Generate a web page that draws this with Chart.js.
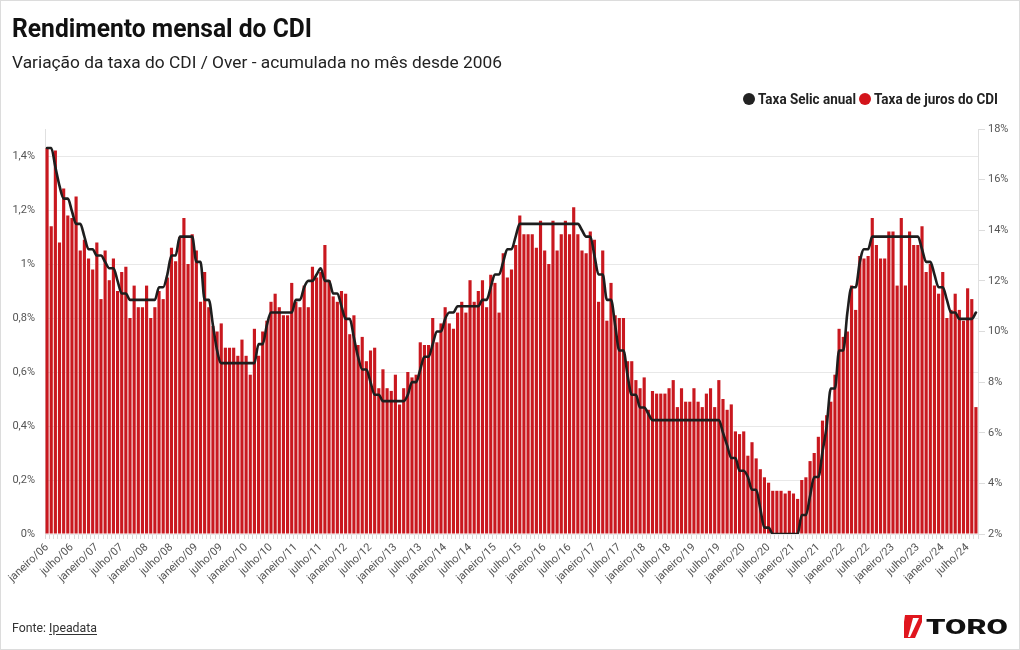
<!DOCTYPE html>
<html lang="pt-BR">
<head>
<meta charset="utf-8">
<script src="https://cdn.jsdelivr.net/npm/chart.js@4.4.1/dist/chart.umd.min.js"></script>
<style>
  html, body { margin:0; padding:0; background:#fff; }
  #wrap { position:relative; width:1020px; height:650px; overflow:hidden; font-family:Roboto, "Noto Sans", sans-serif; }
  #frame { position:absolute; left:0; top:0; width:1018px; height:648px; border:1px solid #dcdcdc; pointer-events:none; }
  canvas { position:absolute; left:0; top:0; }
  .txt { position:absolute; white-space:nowrap; transform-origin:0 0; line-height:1; }
  #title { left:12px; top:15px; font-size:26.7px; font-weight:700; color:#111; }
  #subtitle { left:12px; top:54px; font-size:17.3px; font-weight:400; color:#222; }
  .lg { font-size:15px; font-weight:700; color:#222; top:92px; }
  .dot { position:absolute; width:12px; height:12px; border-radius:50%; top:93px; }
  #fonte { left:12px; top:621px; font-size:13px; color:#333; }
  #fonte u { text-underline-offset:2px; }
  #logo { position:absolute; left:901px; top:614px; }
</style>
</head>
<body>
<div id="wrap">
  <canvas id="c" width="1020" height="650"></canvas>
  <div id="title" class="txt" data-w="300">Rendimento mensal do CDI</div>
  <div id="subtitle" class="txt" data-w="490">Variação da taxa do CDI / Over - acumulada no mês desde 2006</div>
  <div class="dot" style="left:743px;background:#222;"></div>
  <div id="lg1" class="txt lg" style="left:758px;" data-w="98">Taxa Selic anual</div>
  <div class="dot" style="left:859px;background:#d3141b;"></div>
  <div id="lg2" class="txt lg" style="left:874px;" data-w="124">Taxa de juros do CDI</div>
  <div id="fonte" class="txt" data-w="85">Fonte: <u>Ipeadata</u></div>
  <svg id="logo" width="110" height="26" viewBox="0 0 110 26">
    <polygon points="4,1 21,1 21,8 14,24 3,24 3,8" fill="#e0161e"/>
    <polygon points="12,4 18,4 9,23 7,23" fill="#ffffff"/>
    <text x="25" y="20" font-family="Roboto, sans-serif" font-weight="900" font-size="21" fill="#111" textLength="82" lengthAdjust="spacingAndGlyphs">TORO</text>
  </svg>
  <div id="frame"></div>
</div>
<script>
// ---- Data ----
const startYear = 2006;
const monthNames = ['janeiro','fevereiro','março','abril','maio','junho','julho','agosto','setembro','outubro','novembro','dezembro'];

// Taxa de juros do CDI (% ao mês), jan/2006 .. set/2024
const cdi = [
  1.43,1.14,1.42,1.08,1.28,1.18,1.17,1.25,1.05,1.09,1.02,0.98,
  1.08,0.87,1.05,0.94,1.02,0.90,0.97,0.99,0.80,0.92,0.84,0.84,
  0.92,0.80,0.84,0.90,0.87,0.95,1.06,1.01,1.10,1.17,1.00,1.11,
  1.05,0.86,0.97,0.84,0.77,0.75,0.78,0.69,0.69,0.69,0.66,0.72,
  0.66,0.59,0.76,0.66,0.75,0.79,0.86,0.89,0.84,0.81,0.81,0.93,
  0.86,0.84,0.92,0.84,0.99,0.95,0.97,1.07,0.94,0.88,0.86,0.90,
  0.89,0.74,0.81,0.70,0.73,0.64,0.68,0.69,0.54,0.61,0.54,0.53,
  0.59,0.48,0.54,0.60,0.58,0.59,0.71,0.70,0.70,0.80,0.71,0.78,
  0.84,0.78,0.76,0.82,0.86,0.82,0.94,0.86,0.90,0.94,0.84,0.96,
  0.93,0.82,1.04,0.95,0.98,1.07,1.18,1.11,1.11,1.11,1.06,1.16,
  1.05,1.00,1.16,1.05,1.11,1.16,1.11,1.21,1.11,1.05,1.04,1.12,
  1.09,0.86,1.05,0.79,0.93,0.81,0.80,0.80,0.64,0.64,0.57,0.54,
  0.58,0.46,0.53,0.52,0.52,0.52,0.54,0.57,0.47,0.54,0.49,0.49,
  0.54,0.49,0.47,0.52,0.54,0.47,0.57,0.50,0.46,0.48,0.38,0.37,
  0.38,0.29,0.34,0.28,0.24,0.21,0.19,0.16,0.16,0.16,0.15,0.16,
  0.15,0.13,0.20,0.21,0.27,0.30,0.36,0.42,0.44,0.49,0.59,0.76,
  0.73,0.75,0.92,0.83,1.03,1.02,1.03,1.17,1.07,1.02,1.02,1.12,
  1.12,0.92,1.17,0.92,1.12,1.07,1.07,1.14,0.97,1.00,0.92,0.89,
  0.97,0.80,0.83,0.89,0.83,0.79,0.91,0.87,0.47
];

// Taxa Selic anual (% a.a.), jan/2006 .. set/2024
const selic = [
  17.25,17.25,16.50,15.75,15.25,15.25,14.75,14.25,14.25,13.75,13.25,13.25,
  13.00,13.00,12.75,12.50,12.50,12.00,11.50,11.50,11.25,11.25,11.25,11.25,
  11.25,11.25,11.25,11.75,11.75,12.25,13.00,13.00,13.75,13.75,13.75,13.75,
  12.75,12.75,11.25,11.25,10.25,9.25,8.75,8.75,8.75,8.75,8.75,8.75,
  8.75,8.75,8.75,9.50,9.50,10.25,10.75,10.75,10.75,10.75,10.75,10.75,
  11.25,11.25,11.75,12.00,12.00,12.25,12.50,12.00,12.00,11.50,11.50,11.00,
  10.50,10.50,9.75,9.00,8.50,8.50,8.00,7.50,7.50,7.25,7.25,7.25,
  7.25,7.25,7.25,7.50,8.00,8.00,8.50,9.00,9.00,9.50,10.00,10.00,
  10.50,10.75,10.75,11.00,11.00,11.00,11.00,11.00,11.00,11.25,11.25,11.75,
  12.25,12.25,12.75,13.25,13.25,13.75,14.25,14.25,14.25,14.25,14.25,14.25,
  14.25,14.25,14.25,14.25,14.25,14.25,14.25,14.25,14.25,14.00,13.75,13.75,
  13.00,12.25,12.25,11.25,11.25,10.25,9.25,9.25,8.25,7.50,7.50,7.00,
  7.00,6.75,6.50,6.50,6.50,6.50,6.50,6.50,6.50,6.50,6.50,6.50,
  6.50,6.50,6.50,6.50,6.50,6.50,6.50,6.00,5.50,5.00,5.00,4.50,
  4.50,4.25,3.75,3.75,3.00,2.25,2.25,2.00,2.00,2.00,2.00,2.00,
  2.00,2.00,2.75,2.75,3.50,4.25,4.25,5.25,6.25,7.75,7.75,9.25,
  9.25,10.75,11.75,11.75,12.75,13.25,13.25,13.75,13.75,13.75,13.75,13.75,
  13.75,13.75,13.75,13.75,13.75,13.75,13.75,13.25,12.75,12.75,12.25,11.75,
  11.75,11.25,10.75,10.75,10.50,10.50,10.50,10.50,10.75
];

const leftTicks = [0, 0.2, 0.4, 0.6, 0.8, 1.0, 1.2, 1.4];
const rightTicks = [2, 4, 6, 8, 10, 12, 14, 16, 18];

const labels = cdi.map((_, i) => monthNames[i % 12] + '/' + String((startYear + Math.floor(i / 12)) % 100).padStart(2, '0'));

const fmt = v => String(Math.round(v * 10) / 10).replace('.', ',') + '%';

Chart.defaults.font.family = 'Roboto, "Noto Sans", sans-serif';

new Chart(document.getElementById('c'), {
  data: {
    labels,
    datasets: [
      {
        type: 'line', label: 'Taxa Selic anual', data: selic, yAxisID: 'y2',
        borderColor: '#1e1e1e', borderWidth: 2.6, pointRadius: 0,
        cubicInterpolationMode: 'monotone', borderJoinStyle: 'round', borderCapStyle: 'round', order: 0
      },
      {
        type: 'bar', label: 'Taxa de juros do CDI', data: cdi, yAxisID: 'y',
        backgroundColor: '#c9181f', barPercentage: 0.76, categoryPercentage: 1.0, order: 1
      }
    ]
  },
  options: {
    responsive: false, animation: false,
    layout: { padding: { top: 129, left: 0, right: 0, bottom: 0 } },
    plugins: { legend: { display: false }, tooltip: { enabled: false } },
    scales: {
      x: {
        type: 'category', offset: true,
        grid: { drawOnChartArea: false, drawTicks: true, tickLength: 5, color: '#dadada' },
        border: { display: false },
        ticks: {
          autoSkip: false, maxRotation: 43, minRotation: 43, padding: 2,
          color: '#555', font: { size: 11 },
          callback: (v, i) => (i % 6 === 0 ? labels[i] : '')
        },
        afterFit: s => { s.height = 116; }
      },
      y: {
        position: 'left', min: 0, max: 1.5,
        afterBuildTicks: s => { s.ticks = leftTicks.map(v => ({ value: v })); },
        grid: { color: '#e8e8e8', drawTicks: false },
        border: { display: true, color: '#e0e0e0' },
        ticks: { padding: 10, color: '#555', font: { size: 11 }, callback: v => fmt(v) },
        afterFit: s => { s.width = 45; }
      },
      y2: {
        position: 'right', min: 2, max: 18,
        afterBuildTicks: s => { s.ticks = rightTicks.map(v => ({ value: v })); },
        grid: { drawOnChartArea: false, drawTicks: true, tickLength: 7, color: '#dcdcdc' },
        border: { display: true, color: '#e0e0e0' },
        ticks: { padding: 3, color: '#555', font: { size: 11 }, callback: v => fmt(v) },
        afterFit: s => { s.width = 42; }
      }
    }
  }
});

function fitTexts() {
  document.querySelectorAll('.txt[data-w]').forEach(el => {
    el.style.transform = 'none';
    const w = el.getBoundingClientRect().width;
    const target = parseFloat(el.dataset.w);
    if (w > 0) el.style.transform = 'scaleX(' + (target / w) + ')';
  });
}
fitTexts();
if (document.fonts && document.fonts.ready) document.fonts.ready.then(fitTexts);
</script>
</body>
</html>
